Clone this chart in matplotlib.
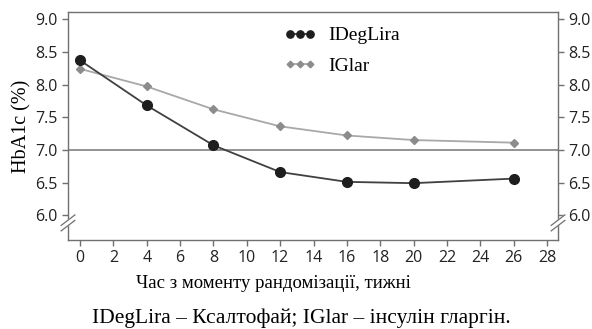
import matplotlib
matplotlib.use("Agg")
import matplotlib.pyplot as plt

weeks = [0, 4, 8, 12, 16, 20, 26]
ideglira = [8.37, 7.68, 7.07, 6.66, 6.51, 6.49, 6.56]
iglar = [8.24, 7.97, 7.62, 7.36, 7.22, 7.15, 7.11]
y_ticks = [6.0, 6.5, 7.0, 7.5, 8.0, 8.5, 9.0]
x_ticks = list(range(0, 29, 2))

serif = "Liberation Serif"
sans = "Open Sans"
axis_col = "#707070"

fig = plt.figure(figsize=(5.92, 3.29), dpi=100)
ax = fig.add_axes([0.1149, 0.2705, 0.8277, 0.693])

ax.axhline(7.0, color="#808080", lw=1.2, zorder=1)
ax.plot(weeks, iglar, color="#a8a8a8", lw=1.3, marker="D", ms=4.5,
        mfc="#8c8c8c", mec="#8c8c8c", label="IGlar", zorder=2)
ax.plot(weeks, ideglira, color="#404040", lw=1.3, marker="o", ms=7,
        mfc="#1e1e1e", mec="#1e1e1e", label="IDegLira", zorder=3)

ax.set_xlim(-0.72, 28.66)
ax.set_ylim(5.62, 9.11)
ax.set_xticks(x_ticks)
ax.set_yticks(y_ticks)
ax.set_yticklabels([f"{v:.1f}" for v in y_ticks])

for s in ax.spines.values():
    s.set_color(axis_col)
    s.set_linewidth(1.0)
ax.tick_params(axis="both", colors=axis_col, labelcolor="#222222",
               length=4, width=1.0, labelsize=11.5)
ax.tick_params(axis="y", right=True, labelright=True)
for lab in ax.get_xticklabels() + ax.get_yticklabels():
    lab.set_fontfamily(sans)

ax.set_ylabel("HbA1c (%)", fontfamily=serif, fontsize=14.5, labelpad=3)

# axis break marks on both sides
for xa in (0.0, 1.0):
    ax.plot([xa - 0.012, xa + 0.012], [0.055, 0.095], transform=ax.transAxes,
            color="white", lw=4, clip_on=False, zorder=5)
    for dy in (-0.012, 0.012):
        ax.plot([xa - 0.014, xa + 0.014], [0.052 + dy, 0.098 + dy],
                transform=ax.transAxes, color=axis_col, lw=0.9,
                clip_on=False, zorder=6)

handles, labels = ax.get_legend_handles_labels()
leg = ax.legend(handles[::-1], labels[::-1], loc="upper left",
                bbox_to_anchor=(0.441, 0.935), frameon=False, numpoints=3,
                borderpad=0, borderaxespad=0, markerscale=0.75,
                handlelength=1.63, handletextpad=0.63, labelspacing=0.68,
                prop={"family": serif, "size": 14})

fig.text(273 / 592, 1 - 283 / 329, "Час з моменту рандомізації, тижні",
         ha="center", va="center", fontfamily=serif, fontsize=13.5)
fig.text(301 / 592, 1 - 318 / 329, "IDegLira – Ксалтофай; IGlar – інсулін гларгін.",
         ha="center", va="center", fontfamily=serif, fontsize=15.5)

fig.savefig("out.png", dpi=100)
